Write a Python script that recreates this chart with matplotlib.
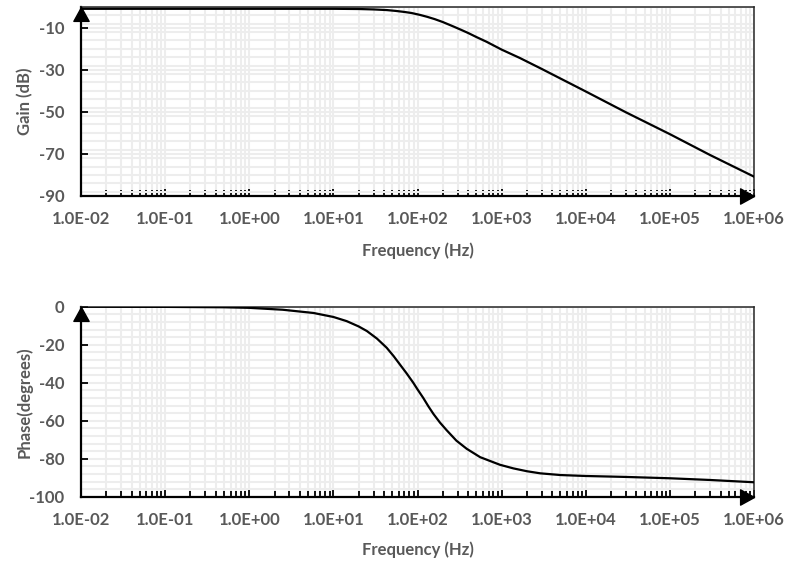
import matplotlib
matplotlib.use("Agg")
import matplotlib.pyplot as plt
from matplotlib.ticker import LogLocator, MultipleLocator, NullFormatter

# ---- data ----
gain_freq = [0.01, 0.1, 1, 10, 20, 30, 43, 55, 70, 85, 107, 130, 160, 200, 267, 330,
             400, 500, 664, 1000, 1650, 3000, 10000, 30000, 100000, 300000, 1000000]
gain_db = [-1.0, -1.0, -1.0, -1.0, -1.1, -1.3, -1.6, -2.0, -2.5, -3.0, -3.9, -4.8, -5.9,
           -7.3, -9.4, -11.0, -12.5, -14.4, -16.7, -20.4, -24.4, -29.6, -40.3, -50.2,
           -60.6, -70.5, -80.8]

phase_freq = [0.01, 0.1, 0.5, 1, 2.5, 5.8, 10, 14.4, 20, 25, 33, 43, 52, 62, 74, 89, 100,
              117, 135, 155, 185, 222, 290, 385, 556, 955, 1380, 2000, 2880, 5000, 10000,
              30000, 100000, 300000, 1000000]
phase_deg = [0.0, -0.1, -0.3, -0.6, -1.6, -3.3, -5.4, -7.6, -10.4, -12.8, -16.8, -21.6,
             -26.0, -30.5, -35.0, -40.0, -43.5, -48.0, -52.5, -56.5, -61.0, -65.0, -70.5,
             -74.8, -79.2, -83.2, -85.1, -86.6, -87.7, -88.6, -89.1, -89.6, -90.3, -91.2,
             -92.4]

x_ticks = [1e-2, 1e-1, 1e0, 1e1, 1e2, 1e3, 1e4, 1e5, 1e6]
x_labels = ["1.0E-02", "1.0E-01", "1.0E+00", "1.0E+01", "1.0E+02",
            "1.0E+03", "1.0E+04", "1.0E+05", "1.0E+06"]
gain_ticks = [-90, -70, -50, -30, -10]
phase_ticks = [-100, -80, -60, -40, -20, 0]

TXT = "#595959"
GRID = "#ededed"
plt.rcParams["font.family"] = ["Lato", "DejaVu Sans"]
plt.rcParams["font.weight"] = "bold"
plt.rcParams["axes.unicode_minus"] = False

fig = plt.figure(figsize=(7.87, 5.64), dpi=100)
ax1 = fig.add_axes([81 / 787, 1 - 196 / 564, 673 / 787, 189.3 / 564])
ax2 = fig.add_axes([81 / 787, 1 - 496.7 / 564, 673 / 787, 190 / 564])

arrow_up = [(0, 0), (-0.55, -1), (0.55, -1), (0, 0)]
arrow_right = [(0, 0), (-1, 0.55), (-1, -0.55), (0, 0)]


def style(ax, yticks, ylim, ylabel, axis_bottom_px, axis_h_px, xlabel_top_px):
    ax.set_xscale("log")
    ax.set_xlim(1e-2, 1e6)
    ax.set_ylim(*ylim)
    ax.set_xticks(x_ticks)
    ax.set_xticklabels(x_labels)
    ax.xaxis.set_minor_locator(LogLocator(base=10, subs=range(2, 10), numticks=100))
    ax.xaxis.set_minor_formatter(NullFormatter())
    ax.set_yticks(yticks)
    ax.yaxis.set_minor_locator(MultipleLocator(4))
    ax.grid(which="both", color=GRID, lw=1.5, zorder=0)
    ax.set_axisbelow(True)
    ax.tick_params(axis="x", which="major", direction="in", length=5, width=1.3,
                   pad=11, labelsize=12, labelcolor=TXT, top=False)
    ax.tick_params(axis="x", which="minor", direction="in", length=4, width=1.3, top=False)
    ax.tick_params(axis="y", which="major", direction="in", length=5, width=1.3,
                   pad=12, labelsize=12, labelcolor=TXT, right=False)
    ax.tick_params(axis="y", which="minor", length=0)
    for t in ax.get_xticklabels() + ax.get_yticklabels():
        t.set_fontweight("bold")
    for s in ("left", "bottom"):
        ax.spines[s].set_linewidth(1.6)
        ax.spines[s].set_color("black")
    for s in ("top", "right"):
        ax.spines[s].set_linewidth(1.1)
        ax.spines[s].set_color("#262626")
    ax.set_xlabel("Frequency (Hz)", fontsize=12, color=TXT, fontweight="bold")
    ax.xaxis.set_label_coords(0.5, -(xlabel_top_px - axis_bottom_px) / axis_h_px)
    ax.set_ylabel(ylabel, fontsize=12, color=TXT, fontweight="bold")
    ax.yaxis.set_label_coords(-(81 - 33) / 673, 0.5)
    ax.plot([0], [1], marker=arrow_up, markersize=20, color="black",
            transform=ax.transAxes, clip_on=False, zorder=5)
    ax.plot([1], [0], marker=arrow_right, markersize=20, color="black",
            transform=ax.transAxes, clip_on=False, zorder=5)


ax1.plot(gain_freq, gain_db, color="black", lw=1.6, zorder=3)
style(ax1, gain_ticks, (-90, 0), "Gain (dB)", 196, 189.3, 242)

ax2.plot(phase_freq, phase_deg, color="black", lw=1.6, zorder=3)
style(ax2, phase_ticks, (-100, 0), "Phase(degrees)", 496.7, 190, 541)

fig.savefig("out.png", dpi=100)
